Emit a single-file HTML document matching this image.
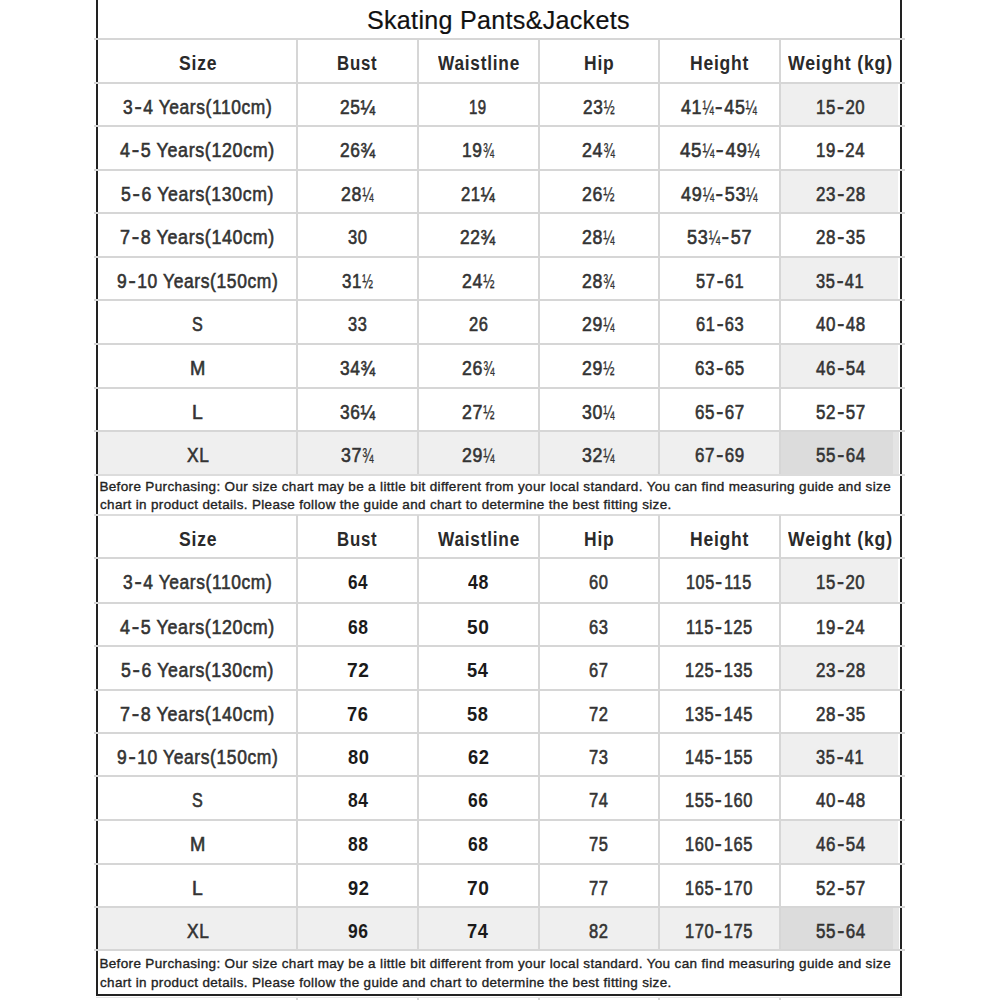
<!DOCTYPE html>
<html><head><meta charset="utf-8"><title>Skating Pants&amp;Jackets Size Chart</title>
<style>
html,body{margin:0;padding:0;background:#fff;}
body{width:1000px;height:1000px;position:relative;overflow:hidden;font-family:"Liberation Sans",sans-serif;}
.r{position:absolute;}
.t{position:absolute;white-space:nowrap;text-align:center;}
.t>span{display:inline-block;}
.m{-webkit-text-stroke:0.6px currentColor;}
.n{-webkit-text-stroke:0.35px currentColor;}
.t1{-webkit-text-stroke:0.2px currentColor;}
.h{display:inline-block;transform:scaleX(1.25);margin:0 2px;}
.fr{display:inline-block;transform:scaleX(0.76);transform-origin:0 0;margin-right:-4px;-webkit-text-stroke:0.3px currentColor;}
</style></head><body>
<div class="r" style="left:779.60px;top:82.70px;width:118.90px;height:43.30px;background:#efefef"></div>
<div class="r" style="left:779.60px;top:169.80px;width:118.90px;height:43.60px;background:#efefef"></div>
<div class="r" style="left:779.60px;top:256.90px;width:118.90px;height:43.50px;background:#efefef"></div>
<div class="r" style="left:779.60px;top:343.90px;width:118.90px;height:43.60px;background:#efefef"></div>
<div class="r" style="left:97.50px;top:431.00px;width:682.10px;height:43.50px;background:#efefef"></div>
<div class="r" style="left:779.60px;top:431.00px;width:113.40px;height:43.50px;background:#dcdcdc"></div>
<div class="r" style="left:893.00px;top:431.00px;width:5.50px;height:43.50px;background:#e4e4e4"></div>
<div class="r" style="left:779.60px;top:558.40px;width:118.90px;height:44.10px;background:#efefef"></div>
<div class="r" style="left:779.60px;top:645.90px;width:118.90px;height:43.70px;background:#efefef"></div>
<div class="r" style="left:779.60px;top:732.80px;width:118.90px;height:43.50px;background:#efefef"></div>
<div class="r" style="left:779.60px;top:820.40px;width:118.90px;height:43.50px;background:#efefef"></div>
<div class="r" style="left:97.50px;top:907.20px;width:682.10px;height:43.20px;background:#efefef"></div>
<div class="r" style="left:779.60px;top:907.20px;width:113.40px;height:43.20px;background:#dcdcdc"></div>
<div class="r" style="left:893.00px;top:907.20px;width:5.50px;height:43.20px;background:#e4e4e4"></div>
<div class="r" style="left:96.00px;top:0.00px;width:2.00px;height:996.00px;background:#222"></div>
<div class="r" style="left:900.00px;top:0.00px;width:2.00px;height:996.00px;background:#222"></div>
<div class="r" style="left:96.00px;top:994.00px;width:806.00px;height:2.00px;background:#222"></div>
<div class="r" style="left:94.00px;top:38.40px;width:811.00px;height:2.00px;background:#d6d6d6"></div>
<div class="r" style="left:94.00px;top:81.70px;width:811.00px;height:2.00px;background:#d6d6d6"></div>
<div class="r" style="left:94.00px;top:125.00px;width:811.00px;height:2.00px;background:#d6d6d6"></div>
<div class="r" style="left:94.00px;top:168.80px;width:811.00px;height:2.00px;background:#d6d6d6"></div>
<div class="r" style="left:94.00px;top:212.40px;width:811.00px;height:2.00px;background:#d6d6d6"></div>
<div class="r" style="left:94.00px;top:255.90px;width:811.00px;height:2.00px;background:#d6d6d6"></div>
<div class="r" style="left:94.00px;top:299.40px;width:811.00px;height:2.00px;background:#d6d6d6"></div>
<div class="r" style="left:94.00px;top:342.90px;width:811.00px;height:2.00px;background:#d6d6d6"></div>
<div class="r" style="left:94.00px;top:386.50px;width:811.00px;height:2.00px;background:#d6d6d6"></div>
<div class="r" style="left:94.00px;top:430.00px;width:811.00px;height:2.00px;background:#d6d6d6"></div>
<div class="r" style="left:94.00px;top:557.40px;width:811.00px;height:2.00px;background:#d6d6d6"></div>
<div class="r" style="left:94.00px;top:601.50px;width:811.00px;height:2.00px;background:#d6d6d6"></div>
<div class="r" style="left:94.00px;top:644.90px;width:811.00px;height:2.00px;background:#d6d6d6"></div>
<div class="r" style="left:94.00px;top:688.60px;width:811.00px;height:2.00px;background:#d6d6d6"></div>
<div class="r" style="left:94.00px;top:731.80px;width:811.00px;height:2.00px;background:#d6d6d6"></div>
<div class="r" style="left:94.00px;top:775.30px;width:811.00px;height:2.00px;background:#d6d6d6"></div>
<div class="r" style="left:94.00px;top:819.40px;width:811.00px;height:2.00px;background:#d6d6d6"></div>
<div class="r" style="left:94.00px;top:862.90px;width:811.00px;height:2.00px;background:#d6d6d6"></div>
<div class="r" style="left:94.00px;top:906.20px;width:811.00px;height:2.00px;background:#d6d6d6"></div>
<div class="r" style="left:94.00px;top:949.40px;width:811.00px;height:2.00px;background:#d6d6d6"></div>
<div class="r" style="left:94.00px;top:473.50px;width:811.00px;height:2.00px;background:#dcdcdc"></div>
<div class="r" style="left:94.00px;top:514.00px;width:811.00px;height:2.00px;background:#dcdcdc"></div>
<div class="r" style="left:296.30px;top:39.40px;width:2.00px;height:435.10px;background:#d6d6d6"></div>
<div class="r" style="left:296.30px;top:515.00px;width:2.00px;height:435.40px;background:#d6d6d6"></div>
<div class="r" style="left:296.30px;top:997.00px;width:2.00px;height:3.00px;background:#d6d6d6"></div>
<div class="r" style="left:417.00px;top:39.40px;width:2.00px;height:435.10px;background:#d6d6d6"></div>
<div class="r" style="left:417.00px;top:515.00px;width:2.00px;height:435.40px;background:#d6d6d6"></div>
<div class="r" style="left:417.00px;top:997.00px;width:2.00px;height:3.00px;background:#d6d6d6"></div>
<div class="r" style="left:537.50px;top:39.40px;width:2.00px;height:435.10px;background:#d6d6d6"></div>
<div class="r" style="left:537.50px;top:515.00px;width:2.00px;height:435.40px;background:#d6d6d6"></div>
<div class="r" style="left:537.50px;top:997.00px;width:2.00px;height:3.00px;background:#d6d6d6"></div>
<div class="r" style="left:658.20px;top:39.40px;width:2.00px;height:435.10px;background:#d6d6d6"></div>
<div class="r" style="left:658.20px;top:515.00px;width:2.00px;height:435.40px;background:#d6d6d6"></div>
<div class="r" style="left:658.20px;top:997.00px;width:2.00px;height:3.00px;background:#d6d6d6"></div>
<div class="r" style="left:778.60px;top:39.40px;width:2.00px;height:435.10px;background:#d6d6d6"></div>
<div class="r" style="left:778.60px;top:515.00px;width:2.00px;height:435.40px;background:#d6d6d6"></div>
<div class="r" style="left:778.60px;top:997.00px;width:2.00px;height:3.00px;background:#d6d6d6"></div>
<div class="r" style="left:96.00px;top:997.00px;width:806.00px;height:1.00px;background:#e4e4e4"></div>
<div class="t t1" style="left:367.48px;top:6.69px;font-size:26px;line-height:26px;font-weight:400;color:#111;letter-spacing:0.3px;text-align:left;transform-origin:0 0;transform:scaleX(0.9653)">Skating Pants&amp;Jackets</div>
<div class="t" style="left:178.95px;top:53.07px;font-size:20px;line-height:20px;font-weight:700;color:#2a2a2a;letter-spacing:0.9px;text-align:left;transform-origin:0 0;transform:scaleX(0.8786)">Size</div>
<div class="t" style="left:337.46px;top:53.07px;font-size:20px;line-height:20px;font-weight:700;color:#2a2a2a;letter-spacing:0.9px;text-align:left;transform-origin:0 0;transform:scaleX(0.8413)">Bust</div>
<div class="t" style="left:437.75px;top:53.07px;font-size:20px;line-height:20px;font-weight:700;color:#2a2a2a;letter-spacing:0.9px;text-align:left;transform-origin:0 0;transform:scaleX(0.8617)">Waistline</div>
<div class="t" style="left:583.58px;top:53.07px;font-size:20px;line-height:20px;font-weight:700;color:#2a2a2a;letter-spacing:0.9px;text-align:left;transform-origin:0 0;transform:scaleX(0.8727)">Hip</div>
<div class="t" style="left:689.62px;top:53.07px;font-size:20px;line-height:20px;font-weight:700;color:#2a2a2a;letter-spacing:0.9px;text-align:left;transform-origin:0 0;transform:scaleX(0.8758)">Height</div>
<div class="t" style="left:788.45px;top:53.07px;font-size:20px;line-height:20px;font-weight:700;color:#2a2a2a;letter-spacing:0.9px;text-align:left;transform-origin:0 0;transform:scaleX(0.8863)">Weight (kg)</div>
<div class="t m" style="left:123.40px;top:96.77px;font-size:20px;line-height:20px;font-weight:400;color:#333;letter-spacing:0.7px;text-align:left;transform-origin:0 0;transform:scaleX(0.8706)">3<span class="h">-</span>4 Years(110cm)</div>
<div class="t m" style="left:339.85px;top:96.77px;font-size:20px;line-height:20px;font-weight:400;color:#333;letter-spacing:0.7px;text-align:left;transform-origin:0 0;transform:scaleX(0.8683)">25¼</div>
<div class="t m" style="left:469.25px;top:96.77px;font-size:20px;line-height:20px;font-weight:400;color:#333;letter-spacing:0.7px;text-align:left;transform-origin:0 0;transform:scaleX(0.7500)">19</div>
<div class="t m" style="left:582.90px;top:96.77px;font-size:20px;line-height:20px;font-weight:400;color:#333;letter-spacing:0.7px;text-align:left;transform-origin:0 0;transform:scaleX(0.8622)">23<span class="fr">½</span></div>
<div class="t m" style="left:681.35px;top:96.77px;font-size:20px;line-height:20px;font-weight:400;color:#333;letter-spacing:0.7px;text-align:left;transform-origin:0 0;transform:scaleX(0.8953)">41<span class="fr">¼</span><span class="h">-</span>45<span class="fr">¼</span></div>
<div class="t m" style="left:815.56px;top:96.77px;font-size:20px;line-height:20px;font-weight:400;color:#333;letter-spacing:0.7px;text-align:left;transform-origin:0 0;transform:scaleX(0.8386)">15<span class="h">-</span>20</div>
<div class="t m" style="left:120.45px;top:140.07px;font-size:20px;line-height:20px;font-weight:400;color:#333;letter-spacing:0.7px;text-align:left;transform-origin:0 0;transform:scaleX(0.8948)">4<span class="h">-</span>5 Years(120cm)</div>
<div class="t m" style="left:339.85px;top:140.07px;font-size:20px;line-height:20px;font-weight:400;color:#333;letter-spacing:0.7px;text-align:left;transform-origin:0 0;transform:scaleX(0.8683)">26¾</div>
<div class="t m" style="left:461.70px;top:140.07px;font-size:20px;line-height:20px;font-weight:400;color:#333;letter-spacing:0.7px;text-align:left;transform-origin:0 0;transform:scaleX(0.8708)">19<span class="fr">¾</span></div>
<div class="t m" style="left:582.30px;top:140.07px;font-size:20px;line-height:20px;font-weight:400;color:#333;letter-spacing:0.7px;text-align:left;transform-origin:0 0;transform:scaleX(0.8946)">24<span class="fr">¾</span></div>
<div class="t m" style="left:679.55px;top:140.07px;font-size:20px;line-height:20px;font-weight:400;color:#333;letter-spacing:0.7px;text-align:left;transform-origin:0 0;transform:scaleX(0.9376)">45<span class="fr">¼</span><span class="h">-</span>49<span class="fr">¼</span></div>
<div class="t m" style="left:815.59px;top:140.07px;font-size:20px;line-height:20px;font-weight:400;color:#333;letter-spacing:0.7px;text-align:left;transform-origin:0 0;transform:scaleX(0.8377)">19<span class="h">-</span>24</div>
<div class="t m" style="left:121.35px;top:183.87px;font-size:20px;line-height:20px;font-weight:400;color:#333;letter-spacing:0.7px;text-align:left;transform-origin:0 0;transform:scaleX(0.8843)">5<span class="h">-</span>6 Years(130cm)</div>
<div class="t m" style="left:341.25px;top:183.87px;font-size:20px;line-height:20px;font-weight:400;color:#333;letter-spacing:0.7px;text-align:left;transform-origin:0 0;transform:scaleX(0.8865)">28<span class="fr">¼</span></div>
<div class="t m" style="left:461.18px;top:183.87px;font-size:20px;line-height:20px;font-weight:400;color:#333;letter-spacing:0.7px;text-align:left;transform-origin:0 0;transform:scaleX(0.8329)">21¼</div>
<div class="t m" style="left:582.45px;top:183.87px;font-size:20px;line-height:20px;font-weight:400;color:#333;letter-spacing:0.7px;text-align:left;transform-origin:0 0;transform:scaleX(0.8865)">26<span class="fr">½</span></div>
<div class="t m" style="left:681.00px;top:183.87px;font-size:20px;line-height:20px;font-weight:400;color:#333;letter-spacing:0.7px;text-align:left;transform-origin:0 0;transform:scaleX(0.9035)">49<span class="fr">¼</span><span class="h">-</span>53<span class="fr">¼</span></div>
<div class="t m" style="left:815.70px;top:183.87px;font-size:20px;line-height:20px;font-weight:400;color:#333;letter-spacing:0.7px;text-align:left;transform-origin:0 0;transform:scaleX(0.8483)">23<span class="h">-</span>28</div>
<div class="t m" style="left:120.45px;top:227.47px;font-size:20px;line-height:20px;font-weight:400;color:#333;letter-spacing:0.7px;text-align:left;transform-origin:0 0;transform:scaleX(0.8948)">7<span class="h">-</span>8 Years(140cm)</div>
<div class="t m" style="left:348.15px;top:227.47px;font-size:20px;line-height:20px;font-weight:400;color:#333;letter-spacing:0.7px;text-align:left;transform-origin:0 0;transform:scaleX(0.8261)">30</div>
<div class="t m" style="left:460.45px;top:227.47px;font-size:20px;line-height:20px;font-weight:400;color:#333;letter-spacing:0.7px;text-align:left;transform-origin:0 0;transform:scaleX(0.8683)">22¾</div>
<div class="t m" style="left:582.45px;top:227.47px;font-size:20px;line-height:20px;font-weight:400;color:#333;letter-spacing:0.7px;text-align:left;transform-origin:0 0;transform:scaleX(0.8865)">28<span class="fr">¼</span></div>
<div class="t m" style="left:687.35px;top:227.47px;font-size:20px;line-height:20px;font-weight:400;color:#333;letter-spacing:0.7px;text-align:left;transform-origin:0 0;transform:scaleX(0.9028)">53<span class="fr">¼</span><span class="h">-</span>57</div>
<div class="t m" style="left:815.70px;top:227.47px;font-size:20px;line-height:20px;font-weight:400;color:#333;letter-spacing:0.7px;text-align:left;transform-origin:0 0;transform:scaleX(0.8483)">28<span class="h">-</span>35</div>
<div class="t m" style="left:117.10px;top:270.97px;font-size:20px;line-height:20px;font-weight:400;color:#333;letter-spacing:0.7px;text-align:left;transform-origin:0 0;transform:scaleX(0.8728)">9<span class="h">-</span>10 Years(150cm)</div>
<div class="t m" style="left:341.97px;top:270.97px;font-size:20px;line-height:20px;font-weight:400;color:#333;letter-spacing:0.7px;text-align:left;transform-origin:0 0;transform:scaleX(0.8473)">31<span class="fr">½</span></div>
<div class="t m" style="left:461.85px;top:270.97px;font-size:20px;line-height:20px;font-weight:400;color:#333;letter-spacing:0.7px;text-align:left;transform-origin:0 0;transform:scaleX(0.8865)">24<span class="fr">½</span></div>
<div class="t m" style="left:582.45px;top:270.97px;font-size:20px;line-height:20px;font-weight:400;color:#333;letter-spacing:0.7px;text-align:left;transform-origin:0 0;transform:scaleX(0.8865)">28<span class="fr">¾</span></div>
<div class="t m" style="left:695.53px;top:270.97px;font-size:20px;line-height:20px;font-weight:400;color:#333;letter-spacing:0.7px;text-align:left;transform-origin:0 0;transform:scaleX(0.8233)">57<span class="h">-</span>61</div>
<div class="t m" style="left:816.42px;top:270.97px;font-size:20px;line-height:20px;font-weight:400;color:#333;letter-spacing:0.7px;text-align:left;transform-origin:0 0;transform:scaleX(0.8233)">35<span class="h">-</span>41</div>
<div class="t m" style="left:192.15px;top:314.47px;font-size:20px;line-height:20px;font-weight:400;color:#333;letter-spacing:0.7px;text-align:left;transform-origin:0 0;transform:scaleX(0.8077)">S</div>
<div class="t m" style="left:348.25px;top:314.47px;font-size:20px;line-height:20px;font-weight:400;color:#333;letter-spacing:0.7px;text-align:left;transform-origin:0 0;transform:scaleX(0.8174)">33</div>
<div class="t m" style="left:468.75px;top:314.47px;font-size:20px;line-height:20px;font-weight:400;color:#333;letter-spacing:0.7px;text-align:left;transform-origin:0 0;transform:scaleX(0.8261)">26</div>
<div class="t m" style="left:582.45px;top:314.47px;font-size:20px;line-height:20px;font-weight:400;color:#333;letter-spacing:0.7px;text-align:left;transform-origin:0 0;transform:scaleX(0.8865)">29<span class="fr">¼</span></div>
<div class="t m" style="left:695.53px;top:314.47px;font-size:20px;line-height:20px;font-weight:400;color:#333;letter-spacing:0.7px;text-align:left;transform-origin:0 0;transform:scaleX(0.8233)">61<span class="h">-</span>63</div>
<div class="t m" style="left:815.70px;top:314.47px;font-size:20px;line-height:20px;font-weight:400;color:#333;letter-spacing:0.7px;text-align:left;transform-origin:0 0;transform:scaleX(0.8483)">40<span class="h">-</span>48</div>
<div class="t m" style="left:189.58px;top:357.97px;font-size:20px;line-height:20px;font-weight:400;color:#333;letter-spacing:0.7px;text-align:left;transform-origin:0 0;transform:scaleX(0.9200)">M</div>
<div class="t m" style="left:339.85px;top:357.97px;font-size:20px;line-height:20px;font-weight:400;color:#333;letter-spacing:0.7px;text-align:left;transform-origin:0 0;transform:scaleX(0.8683)">34¾</div>
<div class="t m" style="left:461.85px;top:357.97px;font-size:20px;line-height:20px;font-weight:400;color:#333;letter-spacing:0.7px;text-align:left;transform-origin:0 0;transform:scaleX(0.8865)">26<span class="fr">¾</span></div>
<div class="t m" style="left:582.45px;top:357.97px;font-size:20px;line-height:20px;font-weight:400;color:#333;letter-spacing:0.7px;text-align:left;transform-origin:0 0;transform:scaleX(0.8865)">29<span class="fr">½</span></div>
<div class="t m" style="left:694.80px;top:357.97px;font-size:20px;line-height:20px;font-weight:400;color:#333;letter-spacing:0.7px;text-align:left;transform-origin:0 0;transform:scaleX(0.8483)">63<span class="h">-</span>65</div>
<div class="t m" style="left:815.70px;top:357.97px;font-size:20px;line-height:20px;font-weight:400;color:#333;letter-spacing:0.7px;text-align:left;transform-origin:0 0;transform:scaleX(0.8483)">46<span class="h">-</span>54</div>
<div class="t m" style="left:191.58px;top:401.57px;font-size:20px;line-height:20px;font-weight:400;color:#333;letter-spacing:0.7px;text-align:left;transform-origin:0 0;transform:scaleX(0.9700)">L</div>
<div class="t m" style="left:339.85px;top:401.57px;font-size:20px;line-height:20px;font-weight:400;color:#333;letter-spacing:0.7px;text-align:left;transform-origin:0 0;transform:scaleX(0.8683)">36¼</div>
<div class="t m" style="left:461.85px;top:401.57px;font-size:20px;line-height:20px;font-weight:400;color:#333;letter-spacing:0.7px;text-align:left;transform-origin:0 0;transform:scaleX(0.8865)">27<span class="fr">½</span></div>
<div class="t m" style="left:582.45px;top:401.57px;font-size:20px;line-height:20px;font-weight:400;color:#333;letter-spacing:0.7px;text-align:left;transform-origin:0 0;transform:scaleX(0.8865)">30<span class="fr">¼</span></div>
<div class="t m" style="left:694.80px;top:401.57px;font-size:20px;line-height:20px;font-weight:400;color:#333;letter-spacing:0.7px;text-align:left;transform-origin:0 0;transform:scaleX(0.8483)">65<span class="h">-</span>67</div>
<div class="t m" style="left:815.70px;top:401.57px;font-size:20px;line-height:20px;font-weight:400;color:#333;letter-spacing:0.7px;text-align:left;transform-origin:0 0;transform:scaleX(0.8483)">52<span class="h">-</span>57</div>
<div class="t m" style="left:186.55px;top:445.07px;font-size:20px;line-height:20px;font-weight:400;color:#333;letter-spacing:0.7px;text-align:left;transform-origin:0 0;transform:scaleX(0.8680)">XL</div>
<div class="t m" style="left:341.25px;top:445.07px;font-size:20px;line-height:20px;font-weight:400;color:#333;letter-spacing:0.7px;text-align:left;transform-origin:0 0;transform:scaleX(0.8865)">37<span class="fr">¾</span></div>
<div class="t m" style="left:461.85px;top:445.07px;font-size:20px;line-height:20px;font-weight:400;color:#333;letter-spacing:0.7px;text-align:left;transform-origin:0 0;transform:scaleX(0.8865)">29<span class="fr">¼</span></div>
<div class="t m" style="left:582.45px;top:445.07px;font-size:20px;line-height:20px;font-weight:400;color:#333;letter-spacing:0.7px;text-align:left;transform-origin:0 0;transform:scaleX(0.8865)">32<span class="fr">¼</span></div>
<div class="t m" style="left:694.80px;top:445.07px;font-size:20px;line-height:20px;font-weight:400;color:#333;letter-spacing:0.7px;text-align:left;transform-origin:0 0;transform:scaleX(0.8483)">67<span class="h">-</span>69</div>
<div class="t m" style="left:815.70px;top:445.07px;font-size:20px;line-height:20px;font-weight:400;color:#333;letter-spacing:0.7px;text-align:left;transform-origin:0 0;transform:scaleX(0.8483)">55<span class="h">-</span>64</div>
<div class="t" style="left:178.95px;top:528.67px;font-size:20px;line-height:20px;font-weight:700;color:#2a2a2a;letter-spacing:0.9px;text-align:left;transform-origin:0 0;transform:scaleX(0.8786)">Size</div>
<div class="t" style="left:337.46px;top:528.67px;font-size:20px;line-height:20px;font-weight:700;color:#2a2a2a;letter-spacing:0.9px;text-align:left;transform-origin:0 0;transform:scaleX(0.8413)">Bust</div>
<div class="t" style="left:437.75px;top:528.67px;font-size:20px;line-height:20px;font-weight:700;color:#2a2a2a;letter-spacing:0.9px;text-align:left;transform-origin:0 0;transform:scaleX(0.8617)">Waistline</div>
<div class="t" style="left:583.58px;top:528.67px;font-size:20px;line-height:20px;font-weight:700;color:#2a2a2a;letter-spacing:0.9px;text-align:left;transform-origin:0 0;transform:scaleX(0.8727)">Hip</div>
<div class="t" style="left:689.62px;top:528.67px;font-size:20px;line-height:20px;font-weight:700;color:#2a2a2a;letter-spacing:0.9px;text-align:left;transform-origin:0 0;transform:scaleX(0.8758)">Height</div>
<div class="t" style="left:788.45px;top:528.67px;font-size:20px;line-height:20px;font-weight:700;color:#2a2a2a;letter-spacing:0.9px;text-align:left;transform-origin:0 0;transform:scaleX(0.8863)">Weight (kg)</div>
<div class="t m" style="left:123.40px;top:572.47px;font-size:20px;line-height:20px;font-weight:400;color:#333;letter-spacing:0.7px;text-align:left;transform-origin:0 0;transform:scaleX(0.8706)">3<span class="h">-</span>4 Years(110cm)</div>
<div class="t" style="left:347.80px;top:572.47px;font-size:20px;line-height:20px;font-weight:700;color:#1a1a1a;letter-spacing:0.6px;text-align:left;transform-origin:0 0;transform:scaleX(0.8565)">64</div>
<div class="t" style="left:468.05px;top:572.47px;font-size:20px;line-height:20px;font-weight:700;color:#1a1a1a;letter-spacing:0.6px;text-align:left;transform-origin:0 0;transform:scaleX(0.8870)">48</div>
<div class="t m" style="left:589.35px;top:572.47px;font-size:20px;line-height:20px;font-weight:400;color:#333;letter-spacing:0.7px;text-align:left;transform-origin:0 0;transform:scaleX(0.8261)">60</div>
<div class="t m" style="left:686.44px;top:572.47px;font-size:20px;line-height:20px;font-weight:400;color:#333;letter-spacing:0.7px;text-align:left;transform-origin:0 0;transform:scaleX(0.8139)">105<span class="h">-</span>115</div>
<div class="t m" style="left:815.56px;top:572.47px;font-size:20px;line-height:20px;font-weight:400;color:#333;letter-spacing:0.7px;text-align:left;transform-origin:0 0;transform:scaleX(0.8386)">15<span class="h">-</span>20</div>
<div class="t m" style="left:120.45px;top:616.57px;font-size:20px;line-height:20px;font-weight:400;color:#333;letter-spacing:0.7px;text-align:left;transform-origin:0 0;transform:scaleX(0.8948)">4<span class="h">-</span>5 Years(120cm)</div>
<div class="t" style="left:347.60px;top:616.57px;font-size:20px;line-height:20px;font-weight:700;color:#1a1a1a;letter-spacing:0.6px;text-align:left;transform-origin:0 0;transform:scaleX(0.8739)">68</div>
<div class="t" style="left:467.24px;top:616.57px;font-size:20px;line-height:20px;font-weight:700;color:#1a1a1a;letter-spacing:0.6px;text-align:left;transform-origin:0 0;transform:scaleX(0.9571)">50</div>
<div class="t m" style="left:589.35px;top:616.57px;font-size:20px;line-height:20px;font-weight:400;color:#333;letter-spacing:0.7px;text-align:left;transform-origin:0 0;transform:scaleX(0.8261)">63</div>
<div class="t m" style="left:685.90px;top:616.57px;font-size:20px;line-height:20px;font-weight:400;color:#333;letter-spacing:0.7px;text-align:left;transform-origin:0 0;transform:scaleX(0.8272)">115<span class="h">-</span>125</div>
<div class="t m" style="left:815.59px;top:616.57px;font-size:20px;line-height:20px;font-weight:400;color:#333;letter-spacing:0.7px;text-align:left;transform-origin:0 0;transform:scaleX(0.8377)">19<span class="h">-</span>24</div>
<div class="t m" style="left:121.35px;top:659.97px;font-size:20px;line-height:20px;font-weight:400;color:#333;letter-spacing:0.7px;text-align:left;transform-origin:0 0;transform:scaleX(0.8843)">5<span class="h">-</span>6 Years(130cm)</div>
<div class="t" style="left:346.64px;top:659.97px;font-size:20px;line-height:20px;font-weight:700;color:#1a1a1a;letter-spacing:0.6px;text-align:left;transform-origin:0 0;transform:scaleX(0.9571)">72</div>
<div class="t" style="left:467.29px;top:659.97px;font-size:20px;line-height:20px;font-weight:700;color:#1a1a1a;letter-spacing:0.6px;text-align:left;transform-origin:0 0;transform:scaleX(0.9136)">54</div>
<div class="t m" style="left:589.35px;top:659.97px;font-size:20px;line-height:20px;font-weight:400;color:#333;letter-spacing:0.7px;text-align:left;transform-origin:0 0;transform:scaleX(0.8261)">67</div>
<div class="t m" style="left:685.18px;top:659.97px;font-size:20px;line-height:20px;font-weight:400;color:#333;letter-spacing:0.7px;text-align:left;transform-origin:0 0;transform:scaleX(0.8247)">125<span class="h">-</span>135</div>
<div class="t m" style="left:815.70px;top:659.97px;font-size:20px;line-height:20px;font-weight:400;color:#333;letter-spacing:0.7px;text-align:left;transform-origin:0 0;transform:scaleX(0.8483)">23<span class="h">-</span>28</div>
<div class="t m" style="left:120.45px;top:703.67px;font-size:20px;line-height:20px;font-weight:400;color:#333;letter-spacing:0.7px;text-align:left;transform-origin:0 0;transform:scaleX(0.8948)">7<span class="h">-</span>8 Years(140cm)</div>
<div class="t" style="left:346.69px;top:703.67px;font-size:20px;line-height:20px;font-weight:700;color:#1a1a1a;letter-spacing:0.6px;text-align:left;transform-origin:0 0;transform:scaleX(0.9136)">76</div>
<div class="t" style="left:467.29px;top:703.67px;font-size:20px;line-height:20px;font-weight:700;color:#1a1a1a;letter-spacing:0.6px;text-align:left;transform-origin:0 0;transform:scaleX(0.9136)">58</div>
<div class="t m" style="left:589.35px;top:703.67px;font-size:20px;line-height:20px;font-weight:400;color:#333;letter-spacing:0.7px;text-align:left;transform-origin:0 0;transform:scaleX(0.8261)">72</div>
<div class="t m" style="left:685.18px;top:703.67px;font-size:20px;line-height:20px;font-weight:400;color:#333;letter-spacing:0.7px;text-align:left;transform-origin:0 0;transform:scaleX(0.8247)">135<span class="h">-</span>145</div>
<div class="t m" style="left:815.70px;top:703.67px;font-size:20px;line-height:20px;font-weight:400;color:#333;letter-spacing:0.7px;text-align:left;transform-origin:0 0;transform:scaleX(0.8483)">28<span class="h">-</span>35</div>
<div class="t m" style="left:117.10px;top:746.87px;font-size:20px;line-height:20px;font-weight:400;color:#333;letter-spacing:0.7px;text-align:left;transform-origin:0 0;transform:scaleX(0.8728)">9<span class="h">-</span>10 Years(150cm)</div>
<div class="t" style="left:347.60px;top:746.87px;font-size:20px;line-height:20px;font-weight:700;color:#1a1a1a;letter-spacing:0.6px;text-align:left;transform-origin:0 0;transform:scaleX(0.9136)">80</div>
<div class="t" style="left:468.20px;top:746.87px;font-size:20px;line-height:20px;font-weight:700;color:#1a1a1a;letter-spacing:0.6px;text-align:left;transform-origin:0 0;transform:scaleX(0.9136)">62</div>
<div class="t m" style="left:589.35px;top:746.87px;font-size:20px;line-height:20px;font-weight:400;color:#333;letter-spacing:0.7px;text-align:left;transform-origin:0 0;transform:scaleX(0.8261)">73</div>
<div class="t m" style="left:685.18px;top:746.87px;font-size:20px;line-height:20px;font-weight:400;color:#333;letter-spacing:0.7px;text-align:left;transform-origin:0 0;transform:scaleX(0.8247)">145<span class="h">-</span>155</div>
<div class="t m" style="left:816.42px;top:746.87px;font-size:20px;line-height:20px;font-weight:400;color:#333;letter-spacing:0.7px;text-align:left;transform-origin:0 0;transform:scaleX(0.8233)">35<span class="h">-</span>41</div>
<div class="t m" style="left:192.15px;top:790.37px;font-size:20px;line-height:20px;font-weight:400;color:#333;letter-spacing:0.7px;text-align:left;transform-origin:0 0;transform:scaleX(0.8077)">S</div>
<div class="t" style="left:347.60px;top:790.37px;font-size:20px;line-height:20px;font-weight:700;color:#1a1a1a;letter-spacing:0.6px;text-align:left;transform-origin:0 0;transform:scaleX(0.8739)">84</div>
<div class="t" style="left:468.20px;top:790.37px;font-size:20px;line-height:20px;font-weight:700;color:#1a1a1a;letter-spacing:0.6px;text-align:left;transform-origin:0 0;transform:scaleX(0.8739)">66</div>
<div class="t m" style="left:589.35px;top:790.37px;font-size:20px;line-height:20px;font-weight:400;color:#333;letter-spacing:0.7px;text-align:left;transform-origin:0 0;transform:scaleX(0.8261)">74</div>
<div class="t m" style="left:685.18px;top:790.37px;font-size:20px;line-height:20px;font-weight:400;color:#333;letter-spacing:0.7px;text-align:left;transform-origin:0 0;transform:scaleX(0.8247)">155<span class="h">-</span>160</div>
<div class="t m" style="left:815.70px;top:790.37px;font-size:20px;line-height:20px;font-weight:400;color:#333;letter-spacing:0.7px;text-align:left;transform-origin:0 0;transform:scaleX(0.8483)">40<span class="h">-</span>48</div>
<div class="t m" style="left:189.58px;top:834.47px;font-size:20px;line-height:20px;font-weight:400;color:#333;letter-spacing:0.7px;text-align:left;transform-origin:0 0;transform:scaleX(0.9200)">M</div>
<div class="t" style="left:347.60px;top:834.47px;font-size:20px;line-height:20px;font-weight:700;color:#1a1a1a;letter-spacing:0.6px;text-align:left;transform-origin:0 0;transform:scaleX(0.8739)">88</div>
<div class="t" style="left:468.20px;top:834.47px;font-size:20px;line-height:20px;font-weight:700;color:#1a1a1a;letter-spacing:0.6px;text-align:left;transform-origin:0 0;transform:scaleX(0.8739)">68</div>
<div class="t m" style="left:589.35px;top:834.47px;font-size:20px;line-height:20px;font-weight:400;color:#333;letter-spacing:0.7px;text-align:left;transform-origin:0 0;transform:scaleX(0.8261)">75</div>
<div class="t m" style="left:685.18px;top:834.47px;font-size:20px;line-height:20px;font-weight:400;color:#333;letter-spacing:0.7px;text-align:left;transform-origin:0 0;transform:scaleX(0.8247)">160<span class="h">-</span>165</div>
<div class="t m" style="left:815.70px;top:834.47px;font-size:20px;line-height:20px;font-weight:400;color:#333;letter-spacing:0.7px;text-align:left;transform-origin:0 0;transform:scaleX(0.8483)">46<span class="h">-</span>54</div>
<div class="t m" style="left:191.58px;top:877.97px;font-size:20px;line-height:20px;font-weight:400;color:#333;letter-spacing:0.7px;text-align:left;transform-origin:0 0;transform:scaleX(0.9700)">L</div>
<div class="t" style="left:347.60px;top:877.97px;font-size:20px;line-height:20px;font-weight:700;color:#1a1a1a;letter-spacing:0.6px;text-align:left;transform-origin:0 0;transform:scaleX(0.9136)">92</div>
<div class="t" style="left:467.24px;top:877.97px;font-size:20px;line-height:20px;font-weight:700;color:#1a1a1a;letter-spacing:0.6px;text-align:left;transform-origin:0 0;transform:scaleX(0.9571)">70</div>
<div class="t m" style="left:589.35px;top:877.97px;font-size:20px;line-height:20px;font-weight:400;color:#333;letter-spacing:0.7px;text-align:left;transform-origin:0 0;transform:scaleX(0.8261)">77</div>
<div class="t m" style="left:685.18px;top:877.97px;font-size:20px;line-height:20px;font-weight:400;color:#333;letter-spacing:0.7px;text-align:left;transform-origin:0 0;transform:scaleX(0.8247)">165<span class="h">-</span>170</div>
<div class="t m" style="left:815.70px;top:877.97px;font-size:20px;line-height:20px;font-weight:400;color:#333;letter-spacing:0.7px;text-align:left;transform-origin:0 0;transform:scaleX(0.8483)">52<span class="h">-</span>57</div>
<div class="t m" style="left:186.55px;top:921.27px;font-size:20px;line-height:20px;font-weight:400;color:#333;letter-spacing:0.7px;text-align:left;transform-origin:0 0;transform:scaleX(0.8680)">XL</div>
<div class="t" style="left:347.60px;top:921.27px;font-size:20px;line-height:20px;font-weight:700;color:#1a1a1a;letter-spacing:0.6px;text-align:left;transform-origin:0 0;transform:scaleX(0.8739)">96</div>
<div class="t" style="left:467.29px;top:921.27px;font-size:20px;line-height:20px;font-weight:700;color:#1a1a1a;letter-spacing:0.6px;text-align:left;transform-origin:0 0;transform:scaleX(0.9136)">74</div>
<div class="t m" style="left:589.35px;top:921.27px;font-size:20px;line-height:20px;font-weight:400;color:#333;letter-spacing:0.7px;text-align:left;transform-origin:0 0;transform:scaleX(0.8261)">82</div>
<div class="t m" style="left:685.18px;top:921.27px;font-size:20px;line-height:20px;font-weight:400;color:#333;letter-spacing:0.7px;text-align:left;transform-origin:0 0;transform:scaleX(0.8247)">170<span class="h">-</span>175</div>
<div class="t m" style="left:815.70px;top:921.27px;font-size:20px;line-height:20px;font-weight:400;color:#333;letter-spacing:0.7px;text-align:left;transform-origin:0 0;transform:scaleX(0.8483)">55<span class="h">-</span>64</div>
<div class="t n" style="left:99.40px;top:479.87px;font-size:13.5px;line-height:13.5px;font-weight:400;color:#222;letter-spacing:0.35px;text-align:left;transform-origin:0 0;transform:scaleX(1.0000)">Before Purchasing: Our size chart may be a little bit different from your local standard. You can find measuring guide and size</div>
<div class="t n" style="left:100.40px;top:498.17px;font-size:13.5px;line-height:13.5px;font-weight:400;color:#222;letter-spacing:0.35px;text-align:left;transform-origin:0 0;transform:scaleX(0.9965)">chart in product details. Please follow the guide and chart to determine the best fitting size.</div>
<div class="t n" style="left:99.40px;top:957.27px;font-size:13.5px;line-height:13.5px;font-weight:400;color:#222;letter-spacing:0.35px;text-align:left;transform-origin:0 0;transform:scaleX(1.0000)">Before Purchasing: Our size chart may be a little bit different from your local standard. You can find measuring guide and size</div>
<div class="t n" style="left:100.40px;top:975.57px;font-size:13.5px;line-height:13.5px;font-weight:400;color:#222;letter-spacing:0.35px;text-align:left;transform-origin:0 0;transform:scaleX(0.9965)">chart in product details. Please follow the guide and chart to determine the best fitting size.</div>
</body></html>
